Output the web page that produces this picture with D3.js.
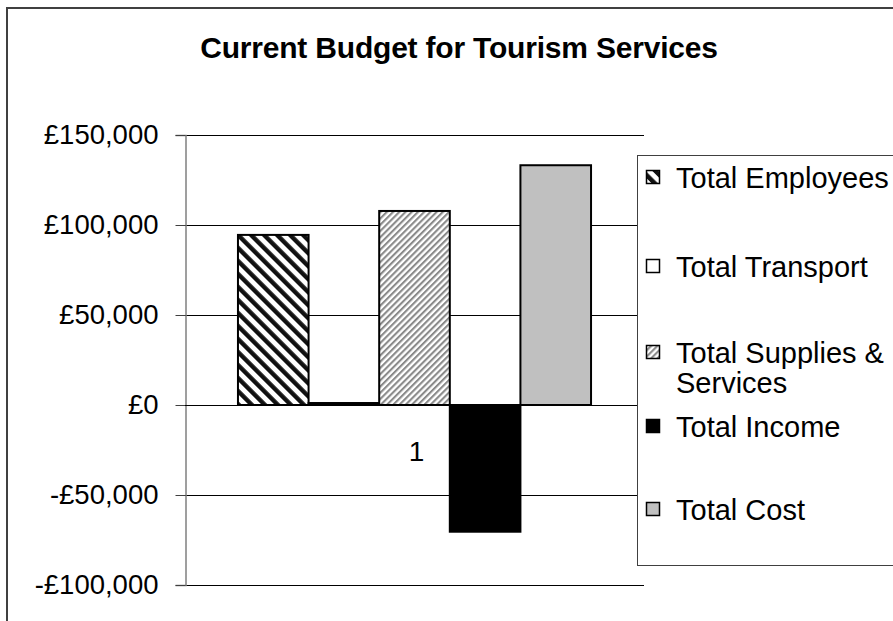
<!DOCTYPE html>
<html>
<head>
<meta charset="utf-8">
<script src="https://cdn.jsdelivr.net/npm/d3@7"></script>
<style>
  html, body { margin: 0; padding: 0; background: #fff; }
  svg { display: block; font-family: "Liberation Sans", Arial, sans-serif; }
</style>
</head>
<body>
<svg id="chart" width="893" height="621"></svg>
<script>
// ---- data ----
const title = "Current Budget for Tourism Services";
const categories = ["1"];
const seriesNames = ["Total Employees", "Total Transport", "Total Supplies & Services", "Total Income", "Total Cost"];
const seriesValues = [94500, 1100, 107800, -70400, 133200];
const legendLabels = [["Total Employees"], ["Total Transport"], ["Total Supplies &", "Services"], ["Total Income"], ["Total Cost"]];
const tickValues = [-100000, -50000, 0, 50000, 100000, 150000];

// ---- layout ----
const W = 893, H = 621;
const plot = { left: 185, right: 644, top: 135, bottom: 585 };
const svg = d3.select("#chart");

// patterns
const defs = svg.append("defs");
const p1 = defs.append("pattern").attr("id", "pEmp")
  .attr("patternUnits", "userSpaceOnUse").attr("width", 9.2).attr("height", 9.2)
  .attr("patternTransform", "rotate(-45)");
p1.append("rect").attr("width", 9.2).attr("height", 9.2).attr("fill", "#fff");
p1.append("rect").attr("width", 4.4).attr("height", 9.2).attr("fill", "#111");
const p2 = defs.append("pattern").attr("id", "pSup")
  .attr("patternUnits", "userSpaceOnUse").attr("width", 4.4).attr("height", 4.4)
  .attr("patternTransform", "rotate(45)");
p2.append("rect").attr("width", 4.4).attr("height", 4.4).attr("fill", "#fff");
p2.append("rect").attr("width", 2.1).attr("height", 4.4).attr("fill", "#8a8a8a");

const fills = ["url(#pEmp)", "#ffffff", "url(#pSup)", "#000000", "#c0c0c0"];

// chart frame
svg.append("rect").attr("x", 7).attr("y", 8).attr("width", W + 20).attr("height", H + 20)
  .attr("fill", "#fff").attr("stroke", "#404040").attr("stroke-width", 2);

// title
svg.append("text").attr("x", 459).attr("y", 58).attr("text-anchor", "middle")
  .attr("font-size", 30).attr("font-weight", "bold").attr("fill", "#000")
  .attr("letter-spacing", -0.2).text(title);

// scales
const y = d3.scaleLinear().domain([-100000, 150000]).range([plot.bottom, plot.top]);
const x0 = d3.scaleBand().domain(categories).range([plot.left, plot.right]);
const x1 = d3.scaleBand().domain(seriesNames).range([0, x0.bandwidth()])
  .paddingInner(0).paddingOuter(0.75);

// gridlines
svg.append("g").selectAll("line").data(tickValues).join("line")
  .attr("x1", plot.left).attr("x2", plot.right)
  .attr("y1", d => Math.round(y(d)) + 0.5).attr("y2", d => Math.round(y(d)) + 0.5)
  .attr("stroke", "#000").attr("stroke-width", 1);

// bars
const data = seriesNames.map((n, i) => ({ name: n, value: seriesValues[i], fill: fills[i] }));
svg.append("g").selectAll("rect").data(data).join("rect")
  .attr("x", d => x0(categories[0]) + x1(d.name))
  .attr("width", x1.bandwidth())
  .attr("y", d => y(Math.max(0, d.value)))
  .attr("height", d => Math.abs(y(d.value) - y(0)))
  .attr("fill", d => d.fill)
  .attr("stroke", "#000").attr("stroke-width", 2);

// y axis
const fmt = d3.format(",");
const yAxis = d3.axisLeft(y).tickValues(tickValues).tickSize(10).tickPadding(17)
  .tickFormat(d => (d < 0 ? "-£" : "£") + fmt(Math.abs(d)));
const gy = svg.append("g").attr("transform", `translate(${plot.left + 0.5},0)`).call(yAxis);
gy.select(".domain").attr("stroke", "#808080").attr("stroke-width", 1.5);
gy.selectAll(".tick line").attr("stroke", "#404040");
gy.selectAll(".tick text").attr("font-size", 27.5).attr("fill", "#000")
  .attr("font-family", "'Liberation Sans', Arial, sans-serif");

// category axis line at zero
svg.append("line").attr("x1", plot.left).attr("x2", plot.right)
  .attr("y1", Math.round(y(0)) + 0.5).attr("y2", Math.round(y(0)) + 0.5)
  .attr("stroke", "#000").attr("stroke-width", 1);

// category label
svg.append("text").attr("x", x0(categories[0]) + x0.bandwidth() / 2 + 2).attr("y", 461)
  .attr("text-anchor", "middle").attr("font-size", 28).attr("fill", "#000").text(categories[0]);

// legend
const lg = svg.append("g");
lg.append("rect").attr("x", 637.5).attr("y", 155.5).attr("width", 300).attr("height", 410)
  .attr("fill", "#fff").attr("stroke", "#404040").attr("stroke-width", 1);
const legendY = [178, 267, 353, 427, 510];
const lineGap = 30;
data.forEach((d, i) => {
  const cy = legendY[i];
  lg.append("rect").attr("x", 646.5).attr("y", cy - 7.5).attr("width", 13).attr("height", 13)
    .attr("fill", d.fill).attr("stroke", "#000").attr("stroke-width", 1.5);
  const t = lg.append("text").attr("font-size", 29).attr("fill", "#000");
  legendLabels[i].forEach((ln, j) => {
    t.append("tspan").attr("x", 676).attr("y", cy + j * lineGap).attr("dy", "0.36em").text(ln);
  });
});
</script>
</body>
</html>
